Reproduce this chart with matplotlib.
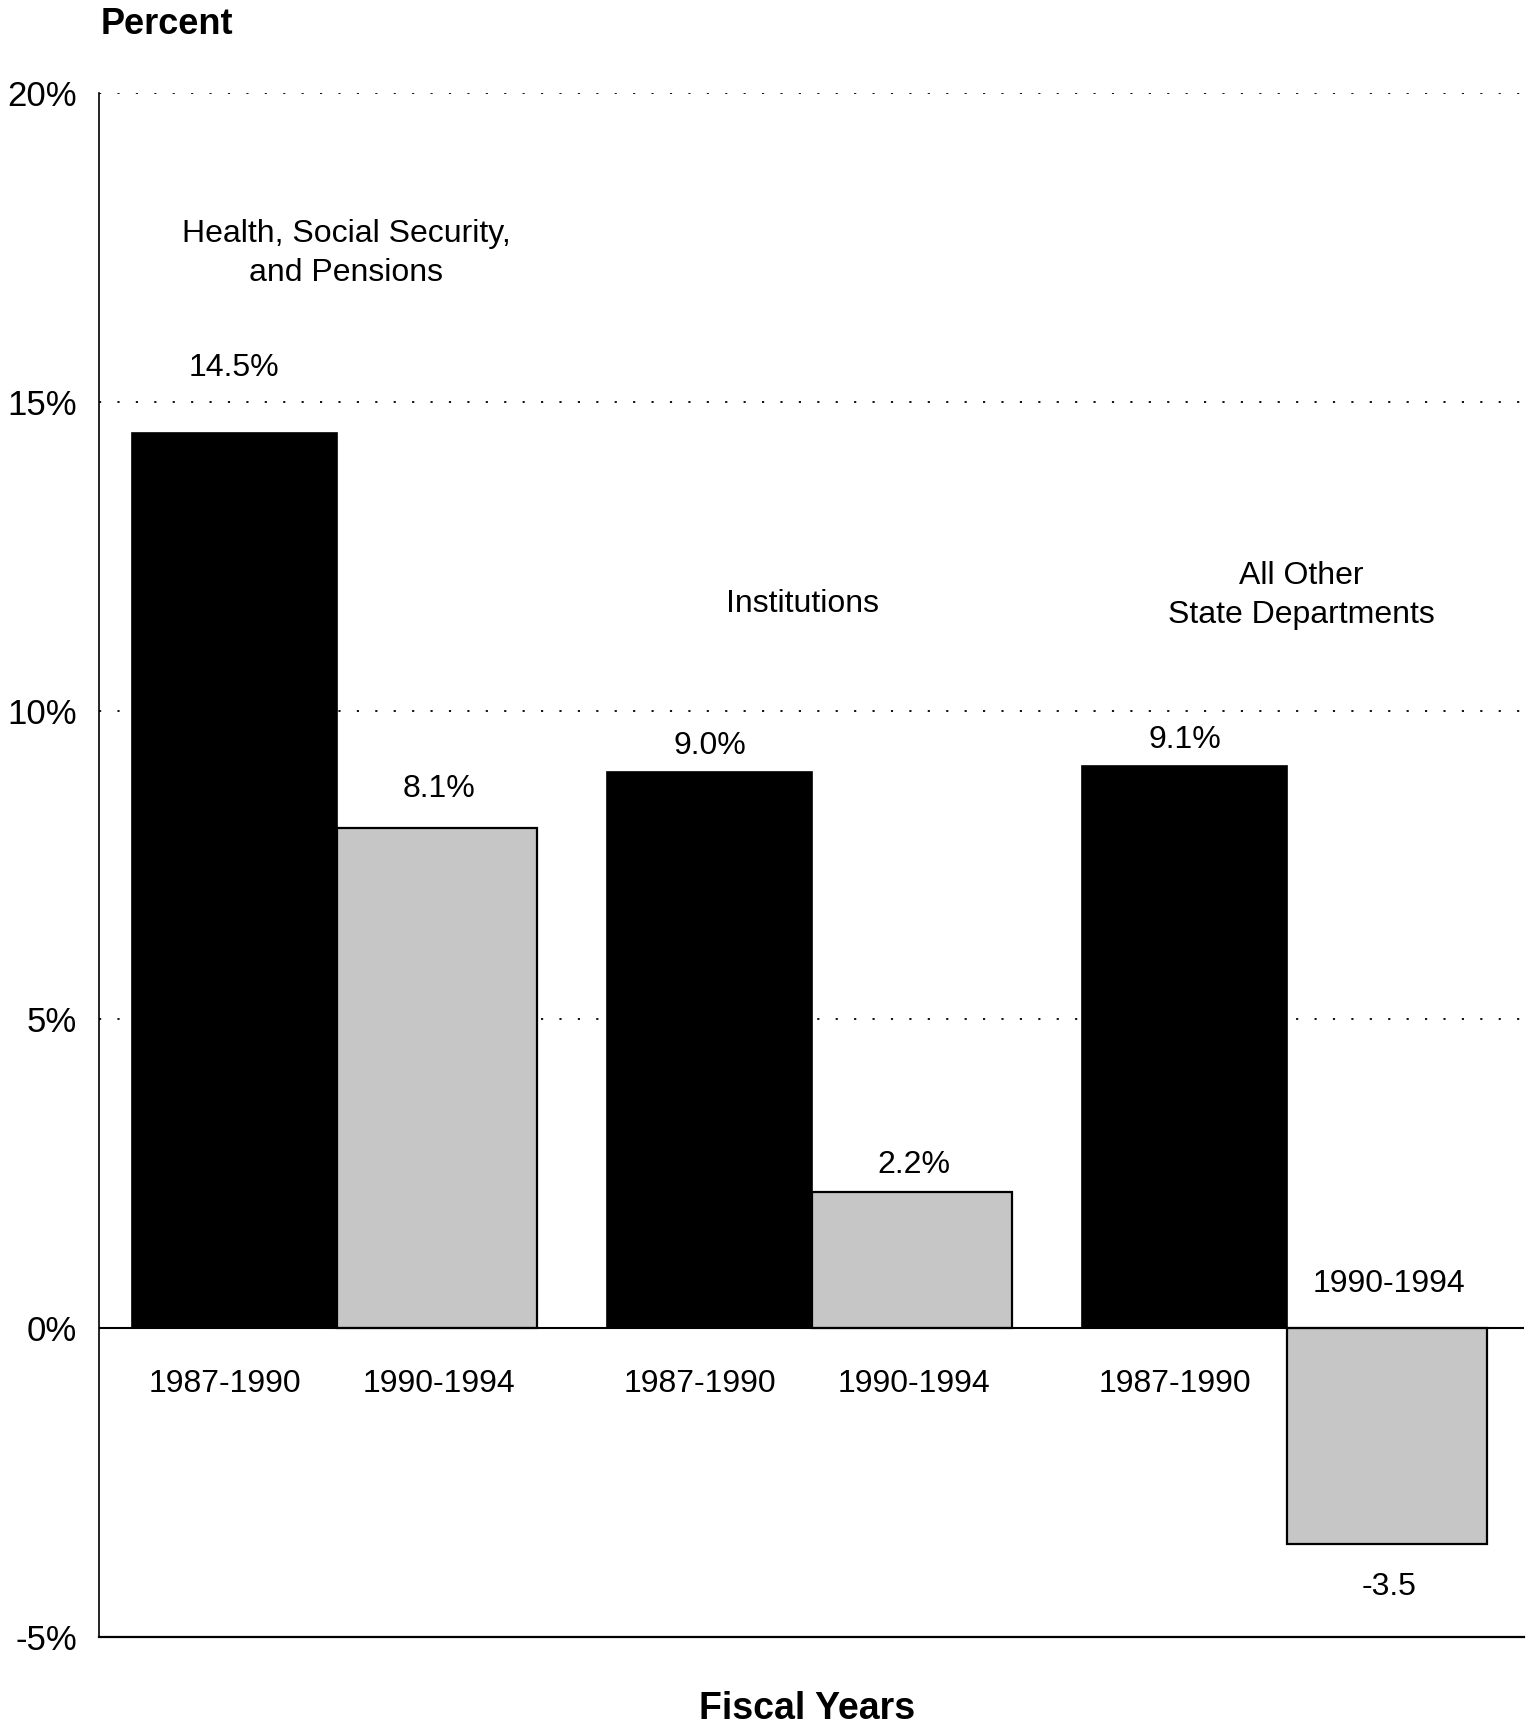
import numpy as np
import matplotlib.pyplot as plt

plt.rcParams['font.family'] = ['Liberation Sans', 'DejaVu Sans']

# data
categories = ['Health, Social Security,\nand Pensions', 'Institutions',
              'All Other\nState Departments']
periods = ['1987-1990', '1990-1994']
growth_8790 = [14.5, 9.0, 9.1]
growth_9094 = [8.1, 2.2, -3.5]
labels_8790 = ['14.5%', '9.0%', '9.1%']
labels_9094 = ['8.1%', '2.2%', '-3.5']
yticks = [-5, 0, 5, 10, 15, 20]
ytick_labels = ['-5%', '0%', '5%', '10%', '15%', '20%']

# layout (label heights)
val_y_8790 = [15.55, 9.43, 9.52]
val_y_9094 = [8.73, 2.64, -4.19]
cat_y = [17.4, 11.73, 11.87]
cat_dx = [0.02, -0.02, 0.03]

fig = plt.figure(figsize=(15.35, 17.25), dpi=100)
ax = fig.add_axes([0.0645, 0.051, 0.9285, 0.895])

x = np.arange(len(categories))
w = 0.43
gray = '#c6c6c6'
ax.bar(x, growth_8790, width=-w, align='edge', color='black', edgecolor='black',
       linewidth=1.2, zorder=3)
ax.bar(x, growth_9094, width=w * 0.98, align='edge', color=gray, edgecolor='black',
       linewidth=1.6, zorder=3)

ax.set_xlim(-0.5, 2.5)
ax.set_ylim(-5, 20)
ax.set_yticks(yticks)
ax.set_yticklabels(ytick_labels, fontsize=25)
ax.set_xticks([])
ax.tick_params(axis='y', length=0, pad=16)

for yv in [5, 10, 15, 20]:
    ax.axhline(yv, color='black', linestyle=(0, (1.2, 9)), linewidth=1.3, zorder=1)
ax.axhline(0, color='black', linewidth=1.5, zorder=4)

for s in ['top', 'right']:
    ax.spines[s].set_visible(False)
ax.spines['left'].set_linewidth(1.2)
ax.spines['bottom'].set_linewidth(1.6)

fs = 23
for i in range(len(categories)):
    xb = i - w / 2
    xg = i + w / 2
    ax.text(xb, val_y_8790[i], labels_8790[i], ha='center', va='center', fontsize=fs)
    ax.text(xg, val_y_9094[i], labels_9094[i], ha='center', va='center', fontsize=fs)
    ax.text(xb - 0.02, -0.9, periods[0], ha='center', va='center', fontsize=fs)
    py = -0.9 if growth_9094[i] >= 0 else 0.71
    ax.text(xg, py, periods[1], ha='center', va='center', fontsize=fs)
    ax.text(i + cat_dx[i], cat_y[i], categories[i], ha='center', va='center',
            fontsize=fs, linespacing=1.4)

fig.text(101 / 1535, 1 - 24 / 1725, 'Percent', ha='left', va='center',
         fontsize=26, fontweight='bold')
fig.text(807 / 1535, 1 - 1709 / 1725, 'Fiscal Years', ha='center', va='center',
         fontsize=27, fontweight='bold')

fig.savefig('out.png', dpi=100)
